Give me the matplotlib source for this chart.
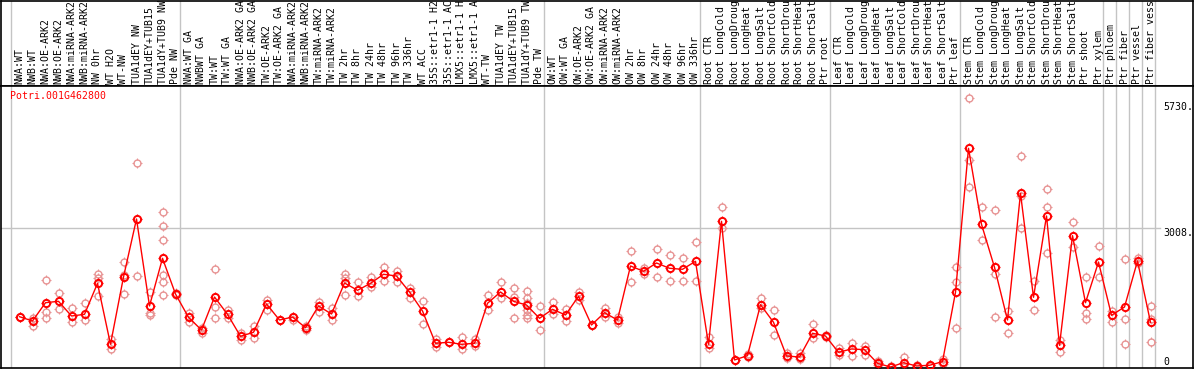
import numpy as np
import matplotlib
matplotlib.use("Agg")
import matplotlib.pyplot as plt
from matplotlib.path import Path

gene = "Potri.001G462800"

samples = [
    "NWA:WT", "NWB:WT", "NWA:OE-ARK2", "NWB:OE-ARK2", "NWA:miRNA-ARK2",
    "NWB:miRNA-ARK2", "NW 0hr", "WT H2O", "WT-NW", "TUA1dEY NW",
    "TUA1dEY+TUB15", "TUA1dY+TUB9 NW", "Pde NW",
    "NWA:WT GA", "NWBWT GA", "TW:WT", "TW:WT GA", "NWA:OE-ARK2 GA",
    "NWB:OE-ARK2 GA", "TW:OE-ARK2", "TW:OE-ARK2 GA", "NWA:miRNA-ARK2",
    "NWB:miRNA-ARK2", "TW:miRNA-ARK2", "TW:miRNA-ARK2", "TW 2hr", "TW 8hr",
    "TW 24hr", "TW 48hr", "TW 96hr", "TW 336hr", "WT ACC",
    "35S::etr1-1 H2O", "35S::etr1-1 ACC", "LMX5::etr1-1 H2O",
    "LMX5::etr1-1 ACC", "WT-TW", "TUA1dEY TW", "TUA1dEY+TUB15",
    "TUA1dY+TUB9 TW", "Pde TW",
    "OW:WT", "OW:WT GA", "OW:OE-ARK2", "OW:OE-ARK2 GA", "OW:miRNA-ARK2",
    "OW:miRNA-ARK2", "OW 2hr", "OW 8hr", "OW 24hr", "OW 48hr", "OW 96hr",
    "OW 336hr",
    "Root CTR", "Root LongCold", "Root LongDrought", "Root LongHeat",
    "Root LongSalt", "Root ShortCold", "Root ShortDrought", "Root ShortHeat",
    "Root ShortSalt", "Ptr root",
    "Leaf CTR", "Leaf LongCold", "Leaf LongDrought", "Leaf LongHeat",
    "Leaf LongSalt", "Leaf ShortCold", "Leaf ShortDrought", "Leaf ShortHeat",
    "Leaf ShortSalt", "Ptr leaf",
    "Stem CTR", "Stem LongCold", "Stem LongDrought", "Stem LongHeat",
    "Stem LongSalt", "Stem ShortCold", "Stem ShortDrought", "Stem ShortHeat",
    "Stem ShortSalt", "Ptr shoot",
    "Ptr xylem", "Ptr phloem", "Ptr fiber", "Ptr vessel", "Ptr fiber vessel",
]

means = [
    1089, 996, 1392, 1422, 1104, 1140, 1811, 491, 1948, 3204, 1321, 2353, 1580,
    1075, 801, 1515, 1140, 664, 751, 1364, 1017, 1082, 851, 1321, 1147, 1819,
    1660, 1811, 2007, 1970, 1624, 1212, 513, 535, 491, 513, 1379, 1624, 1422,
    1342, 1054,
    1249, 1126, 1530, 909, 1176, 1017, 2187, 2072, 2252, 2137, 2115, 2288,
    491, 3154, 152, 245, 1349, 968, 238, 216, 730, 671,
    318, 390, 375, 80, 0, 93, 22, 37, 115, 1617,
    4735, 3089, 2158, 1017, 3760, 1509, 3269, 469, 2843, 1392,
    2273, 1119, 1299, 2295, 968,
]

replicates = [
    [1089, 1089], [1054, 887], [1883, 1190, 1054], [1595, 1249], [1270, 981],
    [1379, 1017], [2013, 1920, 1537], [600, 390], [2267, 1985, 1574],
    [4410, 1970], [1624, 1176, 1126], [3349, 3046, 2743, 1985, 1847, 1552],
    [1595, 1552],
    [1176, 968], [838, 743], [2115, 1292, 1067], [1234, 1054], [730, 585],
    [887, 621], [1450, 1234], [1017, 1017], [1082, 1017], [801, 880],
    [1414, 1197], [1270, 1017], [2013, 1920, 1559], [1834, 1544],
    [1942, 1725], [2165, 1862], [2078, 1840], [1717, 1487], [1429, 924],
    [600, 426], [535, 550], [656, 383], [606, 455], [1559, 1234],
    [1840, 1487], [1704, 1522, 1067], [1645, 1487, 1379, 1234, 1126, 1054],
    [1321, 801],
    [1400, 1147], [1256, 996], [1617, 1450], [909, 909], [1270, 1089],
    [946, 1080], [2505, 1834], [2137, 2007], [2555, 1942], [2418, 1855],
    [2353, 1855], [2700, 1855],
    [656, 405], [3457, 3003], [156, 150], [209, 280], [1487, 1270],
    [1234, 686], [296, 202], [296, 180], [931, 621], [700, 650],
    [418, 260], [526, 238], [455, 260], [136, 37], [20, 0], [223, 6],
    [40, 10], [50, 25], [180, 60], [2172, 1847, 838],
    [5817, 4482, 3903], [3457, 2743], [3392, 2007, 1075], [1219, 730],
    [4568, 3702, 3003], [1862, 1234], [3847, 3457, 2462], [585, 318],
    [3133, 2605], [1942, 1162, 1032],
    [2612, 1942], [1205, 981], [2332, 1032, 491], [2353, 2245],
    [1321, 1032, 548],
]

# vertical separators sit after these samples (and one before the first)
group_ends = [-1, 12, 40, 52, 62, 72, 83, 84, 85, 86, 87]
yticks = [5730, 3008, 0]

W, H = 1194, 370
fig = plt.figure(figsize=(W / 100, H / 100), dpi=100)

x = np.arange(len(samples))
x_left = (1 - 19.5) / 13
x_right = (1193 - 19.5) / 13
red = "#FF0000"
pink = "#E89494"
grey = "#C4C4C4"
mono = "DejaVu Sans Mono"
fs = 7.1

# little ticks round each circle
stub = Path([(0, 0.62), (0, 1), (0, -0.62), (0, -1),
             (0.62, 0), (1, 0), (-0.62, 0), (-1, 0)],
            [Path.MOVETO, Path.LINETO] * 4)

# header with sample names (only as much as fits in the header)
axh = fig.add_axes([1 / W, (H - 86) / H, 1192 / W, 85.5 / H])
axh.set_xlim(x_left, x_right)
axh.set_ylim(86, 0)
axh.set_xticks([])
axh.set_yticks([])
for s in axh.spines.values():
    s.set_color("black")
    s.set_linewidth(1.2)
for g in group_ends:
    axh.axvline(g + 0.35, color=grey, lw=1)
for i, name in enumerate(samples):
    axh.text(i, 83.5, name[:14], rotation=90, ha="center", va="bottom",
             family=mono, fontsize=fs, color="black")

# main plot
ax = fig.add_axes([1 / W, (H - 368) / H, 1192 / W, 282 / H])
ax.set_xlim(x_left, x_right)
ax.set_ylim(-22, 6084)
ax.set_xticks([])
ax.set_yticks([])
for s in ax.spines.values():
    s.set_color("black")
    s.set_linewidth(1.2)
for g in group_ends:
    ax.axvline(g + 0.35, color=grey, lw=1, zorder=1)
ax.plot([x_left, (1160 - 19.5) / 13], [3008, 3008], color=grey, lw=1, zorder=1)

rx = [i for i, r in enumerate(replicates) for _ in r]
ry = [v for r in replicates for v in r]
ax.plot(rx, ry, ls="none", marker="o", ms=5, mfc="none", mec=pink, mew=1, zorder=2)
ax.plot(rx, ry, ls="none", marker=stub, ms=7.5, mec=pink, mew=0.8, zorder=2)

ax.plot(x, means, color=red, lw=1, zorder=3)
ax.plot(x, means, ls="none", marker="o", ms=5.2, mfc="none", mec=red, mew=1.4, zorder=4)
ax.plot(x, means, ls="none", marker=stub, ms=7.8, mec=red, mew=0.9, zorder=4)

tx = (1163 - 19.5) / 13
for v in yticks:
    lab = "0" if v == 0 else "%d." % v
    ax.text(tx, v, lab, ha="left", va="bottom" if v == 0 else "top",
            family=mono, fontsize=fs, color="black")

ax.text(x_left + 9 / 13, 6084 - 5 * 21.65, gene, ha="left", va="top",
        family=mono, fontsize=fs, color=red)

fig.savefig("out.png", dpi=100)
plt.close(fig)
